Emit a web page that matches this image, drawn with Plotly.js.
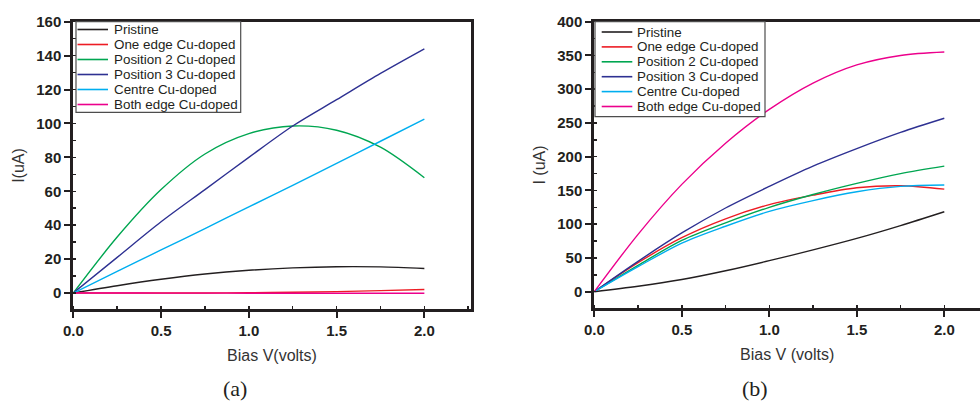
<!DOCTYPE html>
<html>
<head>
<meta charset="utf-8">
<script src="https://cdn.plot.ly/plotly-3.0.1.min.js"></script>
<style>html,body{margin:0;padding:0;background:#fff;}#chart{width:980px;height:401px;}</style>
</head>
<body>
<div id="chart"></div>
<script>
// ---------- data ----------
const biasV = [0, 0.25, 0.5, 0.75, 1.0, 1.25, 1.5, 1.75, 2.0];
const seriesNames = ["Pristine", "One edge Cu-doped", "Position 2 Cu-doped", "Position 3 Cu-doped", "Centre Cu-doped", "Both edge Cu-doped"];
const seriesColors = ["#231F20", "#ED1C24", "#00A651", "#2E3192", "#00AEEF", "#EC008C"];

// panel (a)
const a_pristine = [0, 4.3, 8.1, 11.2, 13.4, 14.8, 15.5, 15.4, 14.5];
const a_oneEdge  = [0, 0, 0, 0.05, 0.2, 0.45, 0.85, 1.4, 2.1];
const a_pos2     = [0, 33, 61, 82, 94, 98.5, 96, 86, 68];
const a_pos3     = [0, 21, 42, 61, 80, 98.5, 114, 129.5, 144];
const a_centre   = [0, 12.7, 25.4, 38, 50.8, 63.5, 76.5, 89.5, 102.5];
const a_bothEdge = [0, 0, -0.05, -0.05, -0.1, -0.1, -0.1, -0.1, -0.1];

// panel (b)
const b_pristine = [0, 8, 18, 31, 46, 62, 79, 98, 118.5];
const b_oneEdge  = [0, 43, 80, 108, 129, 143, 154, 157, 152];
const b_pos2     = [0, 39, 76, 102, 125, 144, 160.5, 175, 186];
const b_pos3     = [0, 45, 87, 124, 156, 186, 212, 236, 257];
const b_centre   = [0, 37, 72, 97, 119, 135, 148, 156, 158];
const b_bothEdge = [0, 85, 159, 220, 270, 309, 336, 350, 355];

const xTitleA = "Bias V(volts)";
const xTitleB = "Bias V (volts)";
const yTitleA = "I(uA)";
const yTitleB = "I (uA)";
const panelLabels = ["(a)", "(b)"];

// ---------- layout helpers ----------
const W = 980, H = 401;
const fx = x => x / W;
const fy = y => 1 - y / H;

const panelA = [a_pristine, a_oneEdge, a_pos2, a_pos3, a_centre, a_bothEdge];
const panelB = [b_pristine, b_oneEdge, b_pos2, b_pos3, b_centre, b_bothEdge];

const traces = [];
panelA.forEach((ys, i) => traces.push({
  x: biasV, y: ys, type: "scatter", mode: "lines", name: seriesNames[i],
  line: {color: seriesColors[i], width: 1.4, shape: "spline", smoothing: 0.9},
  xaxis: "x", yaxis: "y", showlegend: false, hoverinfo: "skip"
}));
panelB.forEach((ys, i) => traces.push({
  x: biasV, y: ys, type: "scatter", mode: "lines", name: seriesNames[i],
  line: {color: seriesColors[i], width: 1.4, shape: "spline", smoothing: 0.9},
  xaxis: "x2", yaxis: "y2", showlegend: false, hoverinfo: "skip"
}));

const tickFont = {family: "Liberation Sans, Arial, sans-serif", size: 15, color: "#231F20", weight: "bold"};
const titleFont = {family: "Liberation Sans, Arial, sans-serif", size: 16, color: "#333333"};
const axisLine = "#231F20";

function xAxis(domain, range, title, anchor) {
  return {
    domain: domain, range: range, anchor: anchor,
    showline: true, linewidth: 3, linecolor: axisLine, mirror: true,
    showgrid: false, zeroline: false,
    ticks: "outside", ticklen: 6, tickwidth: 2, tickcolor: axisLine,
    tick0: 0, dtick: 0.5, tickformat: ".1f",
    minor: {ticks: "inside", ticklen: 3, tickwidth: 1.5, tickcolor: axisLine, dtick: 0.25, showgrid: false},
    tickfont: tickFont,
    title: {text: title, font: titleFont, standoff: 12},
    fixedrange: true
  };
}
function yAxis(domain, range, dtick, title, anchor, mirror) {
  return {
    domain: domain, range: range, anchor: anchor,
    showline: true, linewidth: 3, linecolor: axisLine, mirror: mirror,
    showgrid: false, zeroline: false,
    ticks: "outside", ticklen: 6, tickwidth: 2, tickcolor: axisLine,
    tick0: 0, dtick: dtick,
    minor: {ticks: "inside", ticklen: 3, tickwidth: 1.5, tickcolor: axisLine, dtick: dtick / 2, showgrid: false},
    tickfont: tickFont,
    title: {text: title, font: titleFont, standoff: 8},
    fixedrange: true
  };
}

// ---------- custom legends (built from the series arrays) ----------
const shapes = [];
const annotations = [];
function buildLegend(box, lineX0, lineX1, textX, rowY0, rowStep) {
  shapes.push({type: "rect", xref: "paper", yref: "paper",
    x0: fx(box[0]), x1: fx(box[1]), y0: fy(box[3]), y1: fy(box[2]),
    line: {color: "#4d4d4d", width: 1.2}, fillcolor: "#ffffff", layer: "above"});
  seriesNames.forEach((name, i) => {
    const yy = rowY0 + i * rowStep;
    shapes.push({type: "line", xref: "paper", yref: "paper",
      x0: fx(lineX0), x1: fx(lineX1), y0: fy(yy), y1: fy(yy),
      line: {color: seriesColors[i], width: 1.6}, layer: "above"});
    annotations.push({xref: "paper", yref: "paper", x: fx(textX), y: fy(yy),
      xanchor: "left", yanchor: "middle", showarrow: false, text: name,
      font: {family: "Liberation Sans, Arial, sans-serif", size: 13.4, color: "#231F20"}});
  });
}
buildLegend([76, 240.7, 21.7, 112.3], 77.5, 108, 111.5, 29.5, 15);
buildLegend([595, 765, 21.7, 116.7], 601.7, 632.3, 635, 32, 14.9);

// panel labels
annotations.push({xref: "paper", yref: "paper", x: fx(235), y: fy(388), xanchor: "center", yanchor: "middle",
  showarrow: false, text: panelLabels[0], font: {family: "Liberation Serif, serif", size: 22, color: "#231F20"}});
annotations.push({xref: "paper", yref: "paper", x: fx(755), y: fy(388), xanchor: "center", yanchor: "middle",
  showarrow: false, text: panelLabels[1], font: {family: "Liberation Serif, serif", size: 22, color: "#231F20"}});

const layout = {
  width: W, height: H,
  margin: {l: 0, r: 0, t: 0, b: 0, pad: 0},
  paper_bgcolor: "#ffffff", plot_bgcolor: "#ffffff",
  showlegend: false,
  xaxis: xAxis([fx(73.3), fx(470.7)], [0, 2.264], xTitleA, "y"),
  yaxis: yAxis([fy(309.3), fy(21.7)], [-9.6, 160], 20, yTitleA, "x", true),
  xaxis2: xAxis([fx(594.3), 1], [0, 2.204], xTitleB, "y2"),
  yaxis2: yAxis([fy(308.3), fy(21.7)], [-24.6, 400], 50, yTitleB, "x2", false),
  shapes: shapes,
  annotations: annotations
};

Plotly.newPlot("chart", traces, layout, {displayModeBar: false, staticPlot: true});
</script>
</body>
</html>
